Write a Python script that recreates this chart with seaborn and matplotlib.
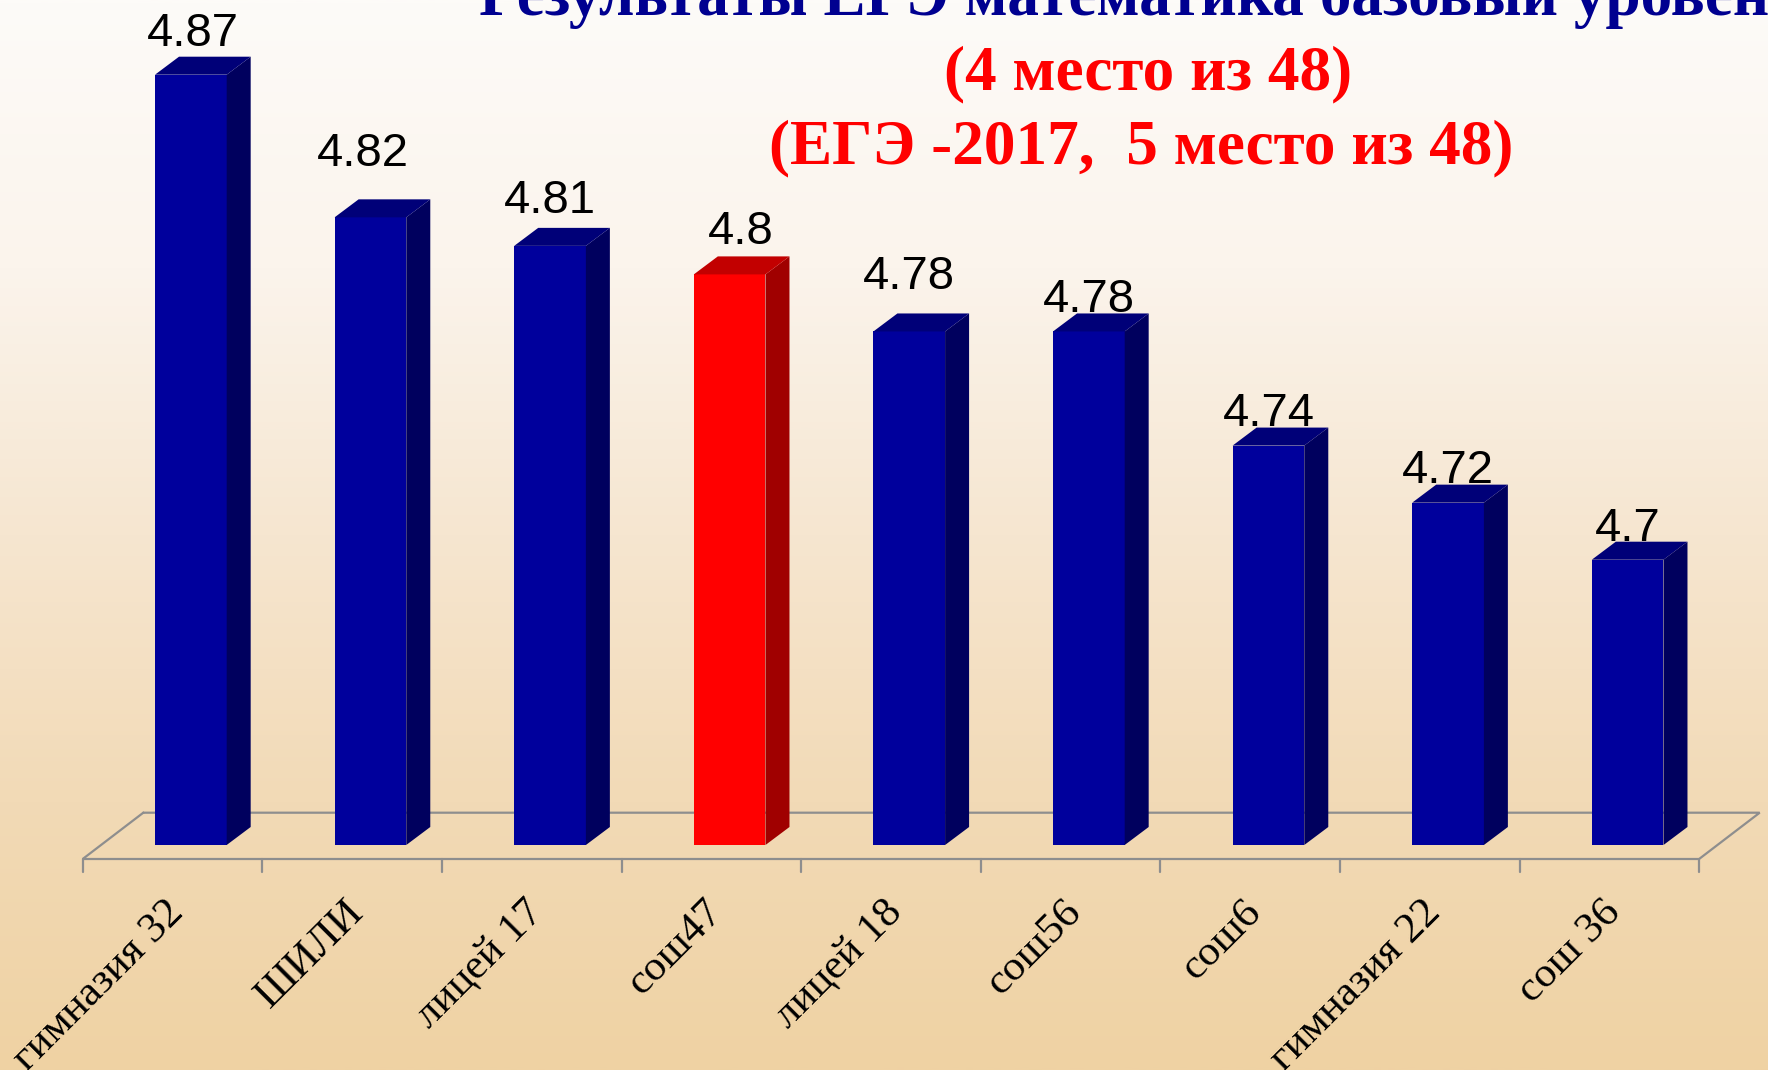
import numpy as np
import pandas as pd
import seaborn as sns
import matplotlib.pyplot as plt
from matplotlib.patches import Polygon
from matplotlib.colors import LinearSegmentedColormap

# ---------------- data ----------------
schools = ["гимназия 32", "ШИЛИ", "лицей 17", "сош47", "лицей 18",
           "сош56", "сош6", "гимназия 22", "сош 36"]
scores = [4.87, 4.82, 4.81, 4.80, 4.78, 4.78, 4.74, 4.72, 4.70]
highlight_school = "сош47"
value_labels = ["4.87", "4.82", "4.81", "4.8", "4.78", "4.78", "4.74", "4.72", "4.7"]
title_line1 = "Результаты ЕГЭ математика базовый уровень"
title_line2 = "(4 место из 48)"
title_line3 = "(ЕГЭ -2017,  5 место из 48)"

# ---------------- layout / style ----------------
W, H = 1768, 1070
BASE = 4.6                 # value axis origin of the bars
PXC = 179.6                # pixels per category
PXU = 2853.0               # pixels per value unit
FLOOR_LEFT_PX = 82.7
BASE_PX = 845.0
LABEL_GAP_PX = [29, 51, 33, 30, 42, 19, 20, 20, 19]
LABEL_DX_PX = [2, -8, 0, 11, 0, 0, 0, 0, 0]

BLUE_FRONT, BLUE_SIDE, BLUE_TOP = "#00009C", "#00005E", "#000078"
RED_FRONT, RED_SIDE, RED_TOP = "#FF0000", "#A00000", "#C20000"

sns.set_theme(style="white")
plt.rcParams["font.family"] = ["Liberation Sans", "DejaVu Sans"]

fig = plt.figure(figsize=(W / 100, H / 100), dpi=100)
ax = fig.add_axes([0, 0, 1, 1])

xlim = (-0.5 - FLOOR_LEFT_PX / PXC, -0.5 + (W - FLOOR_LEFT_PX) / PXC)
ylim = (BASE - (H - BASE_PX) / PXU, BASE + BASE_PX / PXU)


def ypx(px):
    return ylim[1] - px / PXU


# background gradient
stops = ["#FDFBF8", "#FBF4EC", "#F6E6D0", "#F2DAB6", "#EFD2A3"]
cmap = LinearSegmentedColormap.from_list("bg", stops)
grad = np.linspace(0, 1, 512).reshape(-1, 1)
ax.imshow(grad, cmap=cmap, aspect="auto", origin="upper",
          extent=(xlim[0], xlim[1], ylim[0], ylim[1]), zorder=0)

# floor
floor_front = BASE - 14 / PXU
floor_back = floor_front + 46.3 / PXU
floor_dx = 60.6 / PXC
n = len(schools)
fx = [-0.5 + floor_dx, -0.5, n - 0.5, n - 0.5 + floor_dx, -0.5 + floor_dx]
fy = [floor_back, floor_front, floor_front, floor_back, floor_back]
ax.plot(fx, fy, color="#8E8E8E", lw=1.6, zorder=1, solid_joinstyle="miter")
for k in range(n + 1):
    ax.plot([k - 0.5, k - 0.5], [floor_front, floor_front - 12.7 / PXU],
            color="#8E8E8E", lw=1.6, zorder=1)

# bars
df = pd.DataFrame({"school": schools, "score": scores})
front_colors = {s: (RED_FRONT if s == highlight_school else BLUE_FRONT) for s in schools}
sns.barplot(data=df, x="school", y="score", hue="school", order=schools,
            hue_order=schools, palette=front_colors, width=0.399, saturation=1,
            dodge=False, legend=False, errorbar=None, linewidth=0, ax=ax, zorder=3)

FACE_SHIFT = 18.35 / PXC
DX = 24 / PXC
DY = 18 / PXU
bars = list(ax.patches)
for p in bars:
    ci = int(round(p.get_x() + p.get_width() / 2))
    val = p.get_height()
    p.set_x(p.get_x() + FACE_SHIFT)
    p.set_y(BASE)
    p.set_height(val - BASE)
    x0 = p.get_x()
    x1 = x0 + p.get_width()
    red = schools[ci] == highlight_school
    side_c = RED_SIDE if red else BLUE_SIDE
    top_c = RED_TOP if red else BLUE_TOP
    ax.add_patch(Polygon([(x1, BASE), (x1 + DX, BASE + DY), (x1 + DX, val + DY), (x1, val)],
                         closed=True, facecolor=side_c, edgecolor="none", zorder=3))
    ax.add_patch(Polygon([(x0, val), (x0 + DX, val + DY), (x1 + DX, val + DY), (x1, val)],
                         closed=True, facecolor=top_c, edgecolor="none", zorder=3))
    ax.text((x0 + x1) / 2 + LABEL_DX_PX[ci] / PXC, val + LABEL_GAP_PX[ci] / PXU,
            value_labels[ci], ha="center", va="baseline", fontsize=34, color="black",
            family=["Liberation Sans", "DejaVu Sans"], zorder=5)

# category labels
for ci, name in enumerate(schools):
    ax.text(ci - 0.045, ypx(893), name, rotation=45, rotation_mode="anchor",
            ha="right", va="top", fontsize=31, color="black",
            family=["Liberation Serif", "DejaVu Serif"], zorder=5)

# title
title_font = dict(ha="center", va="baseline", fontsize=45.5, fontweight="bold",
                  family=["Liberation Serif", "DejaVu Serif"])
fig.text(1141 / W, 1 - 15 / H, title_line1, color="#000090", **title_font)
fig.text(1148 / W, 1 - 89 / H, title_line2, color="#FF0000", **title_font)
fig.text(1141 / W, 1 - 163 / H, title_line3, color="#FF0000", **title_font)

ax.set_xlim(xlim)
ax.set_ylim(ylim)
ax.axis("off")

fig.savefig("out.png", dpi=100)
